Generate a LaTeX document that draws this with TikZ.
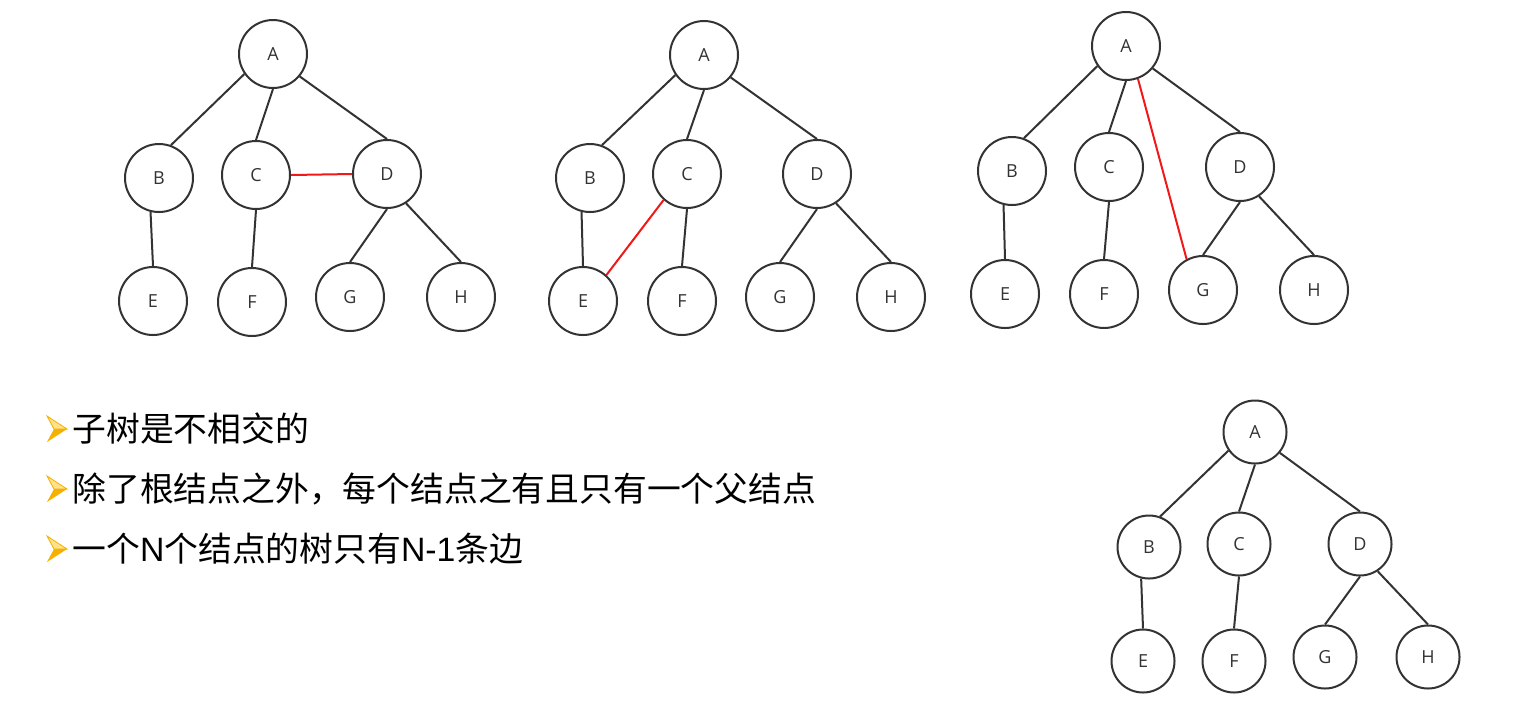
\documentclass[tikz,border=0pt]{standalone}
\usepackage{fontspec}
\setmainfont{Open Sans}
\newfontfamily\cjk{Noto Sans CJK SC}
\newfontfamily\ari{Liberation Sans}
\definecolor{ink}{HTML}{333333}
\definecolor{redge}{HTML}{F01818}
\definecolor{gold}{HTML}{F5B000}
\definecolor{lgold}{HTML}{FFE28A}
\begin{document}
\begin{tikzpicture}[x=0.5pt,y=-0.5pt,
  tn/.style={circle,draw=ink,line width=1pt,minimum size=34pt,inner sep=0pt,text=ink,font=\fontsize{9}{10}\selectfont},
  sn/.style={tn,minimum size=31.5pt},
  ed/.style={draw=ink,line width=1pt},
  red/.style={draw=redge,line width=1pt},
  txt/.style={anchor=west,inner sep=0pt,font=\cjk\fontsize{16.9}{20}\selectfont},
  bul/.style={line width=0.4pt}]
\useasboundingbox (0,0) rectangle (1513,714);
% tree 1
\node[tn] (a1) at (273,54) {A};
\node[tn] (b1) at (159,178) {B};
\node[tn] (c1) at (256,175) {C};
\node[tn] (d1) at (387,174) {D};
\node[tn] (e1) at (153,301) {E};
\node[tn] (f1) at (252,302) {F};
\node[tn] (g1) at (350,297) {G};
\node[tn] (h1) at (461,297) {H};
\draw[ed] (a1.215)--(b1.70) (a1.270)--(c1.90) (a1.320)--(d1.90) (b1.256)--(e1.90) (c1.270)--(f1.90) (d1.270)--(g1.90) (d1.303)--(h1.90);
\draw[red] (c1.0)--(d1.180);
% tree 2
\node[tn] (a2) at (704,55) {A};
\node[tn] (b2) at (590,178) {B};
\node[tn] (c2) at (687,174) {C};
\node[tn] (d2) at (817,174) {D};
\node[tn] (e2) at (583,301) {E};
\node[tn] (f2) at (682,301) {F};
\node[tn] (g2) at (780,297) {G};
\node[tn] (h2) at (891,297) {H};
\draw[ed] (a2.215)--(b2.70) (a2.270)--(c2.90) (a2.320)--(d2.90) (b2.256)--(e2.90) (c2.270)--(f2.90) (d2.270)--(g2.90) (d2.303)--(h2.90);
\draw[red] (c2.228)--(e2.48);
% tree 3
\node[tn] (a3) at (1126,46) {A};
\node[tn] (b3) at (1012,171) {B};
\node[tn] (c3) at (1109,167) {C};
\node[tn] (d3) at (1240,167) {D};
\node[tn] (e3) at (1005,294) {E};
\node[tn] (f3) at (1104,294) {F};
\node[tn] (g3) at (1203,290) {G};
\node[tn] (h3) at (1314,290) {H};
\draw[ed] (a3.215)--(b3.70) (a3.270)--(c3.90) (a3.320)--(d3.90) (b3.256)--(e3.90) (c3.270)--(f3.90) (d3.270)--(g3.90) (d3.303)--(h3.90);
\draw[red] (a3.290)--(g3.118);
% tree 4
\node[sn] (a4) at (1255,432) {A};
\node[sn] (b4) at (1149,547) {B};
\node[sn] (c4) at (1239,544) {C};
\node[sn] (d4) at (1360,544) {D};
\node[sn] (e4) at (1143,661) {E};
\node[sn] (f4) at (1234,661) {F};
\node[sn] (g4) at (1325,657) {G};
\node[sn] (h4) at (1428,657) {H};
\draw[ed] (a4.215)--(b4.70) (a4.270)--(c4.90) (a4.320)--(d4.90) (b4.256)--(e4.90) (c4.270)--(f4.90) (d4.270)--(g4.90) (d4.303)--(h4.90);
% bullets
\foreach \y/\n in {429/1,489/2,549/3}{
  \fill[lgold] (47,\y-13) -- (67,\y) -- (54,\y) -- cycle;
  \draw[gold,bul] (47,\y-13) -- (67,\y) -- (54,\y) -- cycle;
  \fill[gold] (54,\y) -- (67,\y) -- (47,\y+13) -- cycle;
}
\node[txt] (t1) at (72,429) {子树是不相交的};
\node[txt] (t2) at (72,489) {除了根结点之外，每个结点之有且只有一个父结点};
\node[txt] (t3) at (72,549) {一个{\ari N}个结点的树只有{\ari N-1}条边};
\end{tikzpicture}
\end{document}
